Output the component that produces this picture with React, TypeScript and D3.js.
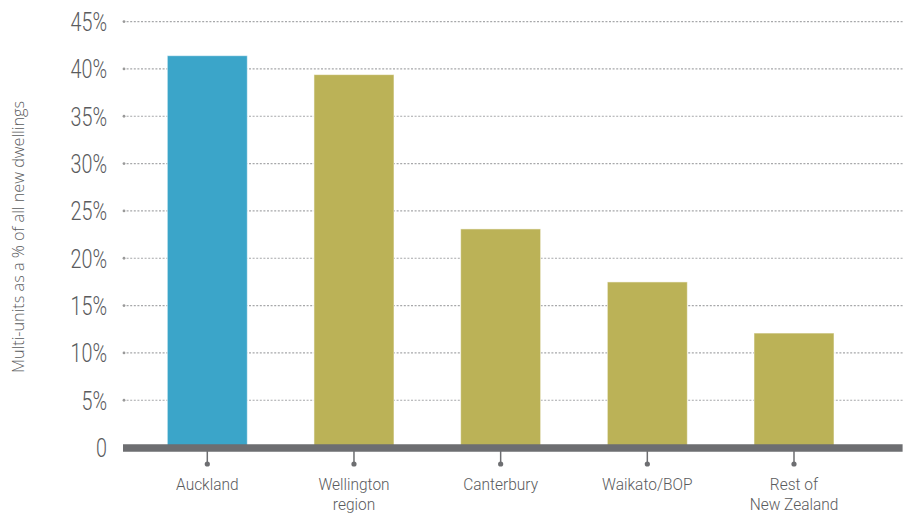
import React from 'react';
import * as d3 from 'd3';

const categories = ['Auckland', 'Wellington region', 'Canterbury', 'Waikato/BOP', 'Rest of New Zealand'];
const categoryLines = [['Auckland'], ['Wellington', 'region'], ['Canterbury'], ['Waikato/BOP'], ['Rest of', 'New Zealand']];
const shares = [41.4, 39.4, 23.1, 17.5, 12.1];
const barColors = ['#3ba5c9', '#bbb257', '#bbb257', '#bbb257', '#bbb257'];
const yTicks = [0, 5, 10, 15, 20, 25, 30, 35, 40, 45];
const yTitle = 'Multi-units as a % of all new dwellings';

const W = 915;
const H = 513;
const left = 123;
const right = 902.6;
const textColor = '#5a5b5d';
const axisColor = '#6d6e71';

const App = () => {
  const y = d3.scaleLinear().domain([0, 45]).range([447.6, 21.6]);
  const x = d3
    .scaleBand<string>()
    .domain(categories)
    .range([left, 878.3])
    .paddingInner(0.4545)
    .paddingOuter(0.302);
  const fmt = (v: number) => (v === 0 ? '0' : `${v}%`);

  return (
    <svg width={W} height={H} style={{ position: 'absolute', left: 0, top: 0 }}>
      <rect width={W} height={H} fill="#fff" />
      {/* gridlines */}
      {yTicks.filter(t => t > 0).map(t => (
        <g key={t}>
          <line x1={left} x2={right} y1={y(t)} y2={y(t)} stroke="#a7a8aa" strokeWidth={1.2} strokeDasharray="2,1.6" />
          <circle cx={left + 1} cy={y(t)} r={1.4} fill="#999" />
        </g>
      ))}
      {/* y tick labels */}
      {yTicks.map(t => (
        <text
          key={t}
          transform={`translate(107,${y(t)}) scale(0.76,1)`}
          dy="0.36em"
          textAnchor="end"
          fontFamily="Roboto, 'Liberation Sans', sans-serif"
          fontWeight={300}
          fontSize={26}
          fill={textColor}
        >
          {fmt(t)}
        </text>
      ))}
      {/* bars */}
      {categories.map((c, i) => (
        <rect
          key={c}
          x={x(c)}
          y={y(shares[i])}
          width={x.bandwidth()}
          height={y(0) - y(shares[i])}
          fill={barColors[i]}
          stroke="rgba(255,255,255,0.55)"
          strokeWidth={1}
        />
      ))}
      {/* baseline */}
      <line x1={left} x2={right} y1={448} y2={448} stroke={axisColor} strokeWidth={7.4} />
      {/* x ticks + labels */}
      {categories.map((c, i) => {
        const cx = (x(c) as number) + x.bandwidth() / 2;
        return (
          <g key={c}>
            <line x1={cx} x2={cx} y1={451} y2={464} stroke={axisColor} strokeWidth={1.5} />
            <circle cx={cx} cy={464} r={2.6} fill={axisColor} />
            {categoryLines[i].map((ln, j) => (
              <text
                key={ln}
                transform={`translate(${cx},${489.5 + j * 20.2}) scale(0.9,1)`}
                textAnchor="middle"
                fontFamily="Roboto, 'Liberation Sans', sans-serif"
                fontWeight={300}
                fontSize={17.2}
                fill={textColor}
              >
                {ln}
              </text>
            ))}
          </g>
        );
      })}
      {/* y title */}
      <text
        transform="translate(24,237) rotate(-90)"
        textAnchor="middle"
        fontFamily="'Open Sans', Roboto, sans-serif"
        fontWeight={300}
        fontSize={16}
        fill={textColor}
        textLength={272}
        lengthAdjust="spacingAndGlyphs"
      >
        {yTitle}
      </text>
    </svg>
  );
};

export default App;
